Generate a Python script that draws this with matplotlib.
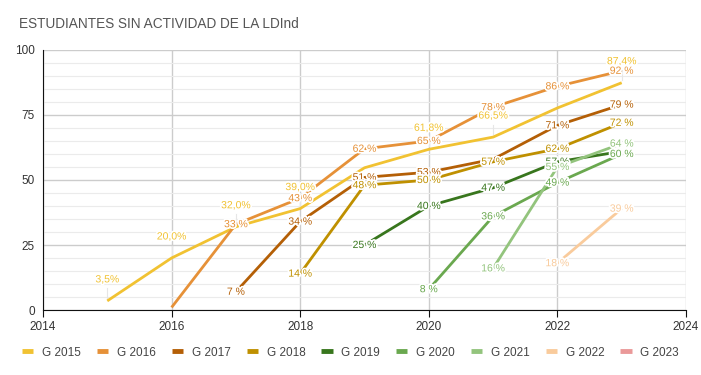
import matplotlib.pyplot as plt
import matplotlib.patheffects as pe
from matplotlib.lines import Line2D

plt.rcParams['font.family'] = ['Liberation Sans', 'DejaVu Sans']

groups = ['G 2015', 'G 2016', 'G 2017', 'G 2018', 'G 2019', 'G 2020', 'G 2021', 'G 2022', 'G 2023']
colors = ['#f1c232', '#e69138', '#b45f06', '#bf9000', '#38761d', '#6aa84f', '#93c47d', '#f9cb9c', '#ea9999']

g2015_years = [2015, 2016, 2017, 2018, 2019, 2020, 2021, 2022, 2023]
g2015_vals = [3.5, 20.0, 32.0, 39.0, 54.7, 61.8, 66.5, 77.7, 87.4]
g2016_years = [2016, 2017, 2018, 2019, 2020, 2021, 2022, 2023]
g2016_vals = [1, 33, 43, 62, 65, 78, 86, 92]
g2017_years = [2017, 2018, 2019, 2020, 2021, 2022, 2023]
g2017_vals = [7, 34, 51, 53, 58, 71, 79]
g2018_years = [2018, 2019, 2020, 2021, 2022, 2023]
g2018_vals = [14, 48, 50, 57, 62, 72]
g2019_years = [2019, 2020, 2021, 2022, 2023]
g2019_vals = [25, 40, 47, 57, 61]
g2020_years = [2020, 2021, 2022, 2023]
g2020_vals = [8, 36, 49, 60]
g2021_years = [2021, 2022, 2023]
g2021_vals = [16, 55, 64]
g2022_years = [2022, 2023]
g2022_vals = [18, 39]
g2023_years = []
g2023_vals = []

# labels hidden in the original because they collide
hidden = {'G 2015': [2019, 2022], 'G 2016': [2016], 'G 2017': [2021], 'G 2019': [2023]}

series = [
    (g2015_years, g2015_vals), (g2016_years, g2016_vals), (g2017_years, g2017_vals),
    (g2018_years, g2018_vals), (g2019_years, g2019_vals), (g2020_years, g2020_vals),
    (g2021_years, g2021_vals), (g2022_years, g2022_vals), (g2023_years, g2023_vals),
]

fig = plt.figure(figsize=(7.01, 3.75), dpi=100)
ax = fig.add_axes([0.0613, 0.1733, 0.9173, 0.6934])

halo = [pe.withStroke(linewidth=2.5, foreground='white')]
for name, col, (xs, ys) in zip(groups, colors, series):
    ax.plot(xs, ys, color=col, lw=2, solid_capstyle='butt', zorder=3)
    for x, y in zip(xs, ys):
        if x in hidden.get(name, []):
            continue
        if name == 'G 2015':
            txt = f'{y:.1f}%'.replace('.', ',')
            ax.plot([x, x], [y + 1.2, y + 4.8], color='#e6e6e6', lw=0.8, zorder=2)
            ax.annotate(txt, (x, y), xytext=(0, 15.5), textcoords='offset points', ha='center', va='center',
                        fontsize=7.5, color=col, path_effects=halo, zorder=5)
        else:
            ax.text(x, y, f'{y:.0f} %', ha='center', va='center', fontsize=7.5, color=col,
                    path_effects=halo, zorder=5)

ax.set_xlim(2014, 2024)
ax.set_ylim(0, 100)
ax.set_xticks(range(2014, 2025, 2))
ax.set_yticks([0, 25, 50, 75, 100])
ax.set_yticks(range(0, 101, 5), minor=True)
ax.grid(axis='y', which='major', color='#cccccc', lw=1)
ax.grid(axis='y', which='minor', color='#ebebeb', lw=0.8)
ax.grid(axis='x', which='major', color='#cccccc', lw=1)
ax.set_axisbelow(True)
for s in ['top', 'right']:
    ax.spines[s].set_visible(False)
ax.spines['bottom'].set_color('#111111')
ax.spines['left'].set_color('#111111')
ax.tick_params(axis='x', length=5, color='#111111', labelsize=8.5, labelcolor='#333333', pad=3)
ax.tick_params(axis='y', which='both', length=0, labelsize=8.5, labelcolor='#333333', pad=6)

fig.text(0.027, 0.936, 'ESTUDIANTES SIN ACTIVIDAD DE LA LDInd', fontsize=9.8, color='#555555', va='center')

handles = [Line2D([0], [0], color=c, lw=3.5, solid_capstyle='butt') for c in colors]
fig.legend(handles, groups, loc='center', bbox_to_anchor=(0.5, 0.06), ncol=9, frameon=False,
           fontsize=8.5, labelcolor='#444444', handlelength=0.95, handletextpad=0.75, columnspacing=1.35)

fig.savefig('out.png', dpi=100)
